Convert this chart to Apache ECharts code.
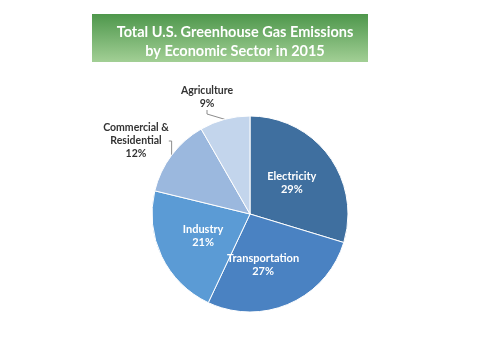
<!DOCTYPE html>
<html>
<head>
<meta charset="utf-8">
<script src="https://cdn.jsdelivr.net/npm/echarts@6/dist/echarts.min.js"></script>
<style>html,body{margin:0;padding:0;background:#fff;}#c{width:480px;height:360px;}</style>
</head>
<body>
<div id="c"></div>
<script>
// Data
const sectors = ['Electricity', 'Transportation', 'Industry', 'Commercial &\nResidential', 'Agriculture'];
const shares = [29.7, 27.3, 21.8, 12.9, 8.3];        // slice sizes
const labelPct = ['29%', '27%', '21%', '12%', '9%']; // printed labels
const colors = ['#3f6f9f', '#4a82c2', '#5b9bd5', '#9bb8de', '#c3d5ec'];
const titleLines = ['Total U.S. Greenhouse Gas Emissions', 'by Economic Sector in 2015'];

const chart = echarts.init(document.getElementById('c'), null, {renderer: 'canvas'});
const outsideIdx = [3, 4];
const outsidePos = {3: [136, 141], 4: [207, 97]};
const insideShift = {1: [-8, 3]};

const data = sectors.map((s, i) => {
  const outside = outsideIdx.indexOf(i) >= 0;
  return {
    name: s,
    value: shares[i],
    itemStyle: {color: colors[i]},
    label: outside ? {
      position: 'outside', color: '#333333', fontSize: 10.5, align: 'center'
    } : {
      position: 'inside', color: '#ffffff', fontSize: 11
    },
    labelLine: {show: outside, length: 6, length2: 4, lineStyle: {color: '#8c8c8c', width: 1}}
  };
});

chart.setOption({
  backgroundColor: '#ffffff',
  animation: false,
  graphic: [{
    type: 'rect',
    shape: {x: 92, y: 14, width: 276, height: 48},
    style: {
      fill: new echarts.graphic.LinearGradient(0, 0, 0, 1, [
        {offset: 0, color: '#4e974c'},
        {offset: 1, color: '#a2cf95'}
      ])
    },
    z: 0
  }],
  title: {
    text: titleLines.join('\n'),
    left: 230, top: 18, textAlign: 'center',
    textStyle: {color: '#ffffff', fontFamily: 'Lato', fontWeight: 'bold', fontSize: 14.5, lineHeight: 19}
  },
  series: [{
    type: 'pie',
    center: [250, 214],
    radius: 98,
    startAngle: 90,
    clockwise: true,
    avoidLabelOverlap: false,
    itemStyle: {borderColor: '#ffffff', borderWidth: 1},
    label: {
      fontFamily: 'Lato', fontWeight: 'bold', lineHeight: 13,
      formatter: p => sectors[p.dataIndex] + '\n' + labelPct[p.dataIndex]
    },
    labelLayout: p => {
      const pos = outsidePos[p.dataIndex];
      if (pos) return {x: pos[0], y: pos[1], align: 'center', verticalAlign: 'middle'};
      const sh = insideShift[p.dataIndex];
      if (sh) return {dx: sh[0], dy: sh[1]};
      return {};
    },
    data: data
  }]
});
</script>
</body>
</html>
